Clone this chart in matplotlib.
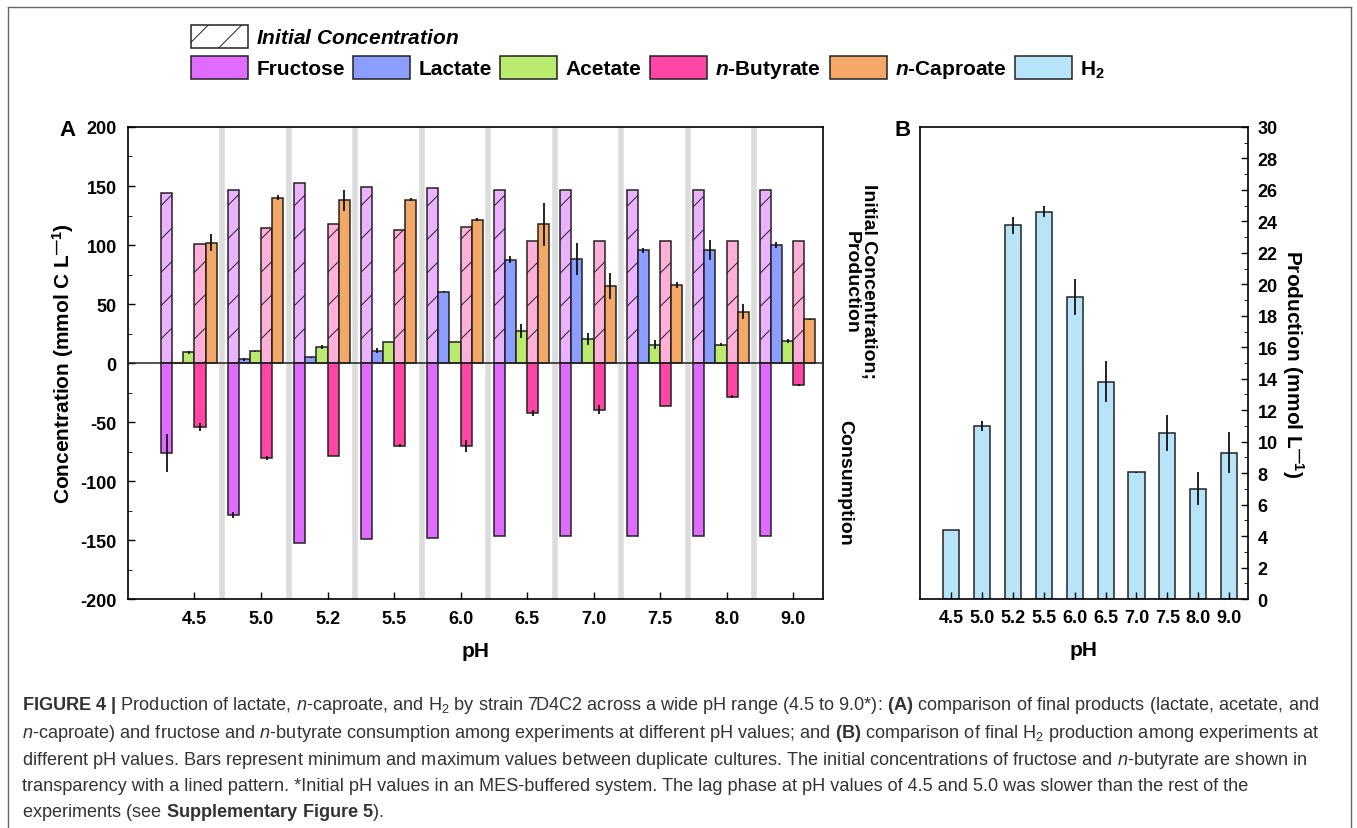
import numpy as np
import matplotlib.pyplot as plt
from matplotlib.patches import Patch
from matplotlib.lines import Line2D
from matplotlib.ticker import MultipleLocator

plt.rcParams['font.family'] = ['Liberation Sans', 'DejaVu Sans']
plt.rcParams['font.weight'] = 'bold'
plt.rcParams['axes.labelweight'] = 'bold'
plt.rcParams['mathtext.fontset'] = 'custom'
plt.rcParams['mathtext.rm'] = 'Liberation Sans:normal'
plt.rcParams['mathtext.it'] = 'Liberation Sans:italic:normal'
plt.rcParams['mathtext.bf'] = 'Liberation Sans:bold'
plt.rcParams['mathtext.bfit'] = 'Liberation Sans:italic:bold'
plt.rcParams['axes.unicode_minus'] = False
plt.rcParams['hatch.linewidth'] = 0.7
plt.rcParams['axes.linewidth'] = 1.2

#-- data (mmol C/L, panel A; mmol/L, panel B)
ph       = ['4.5', '5.0', '5.2', '5.5', '6.0', '6.5', '7.0', '7.5', '8.0', '9.0']
fru_init = [144, 147, 152.5, 149.5, 148.5, 147, 147, 147, 147, 147]
fru_cons = [-76.5, -129, -152.5, -149.5, -148.5, -147, -147, -147, -147, -147]
fru_err  = [16, 2.5, 0, 0, 0, 0, 0, 0, 0, 0]
lac      = [0, 3, 5, 10.5, 60.5, 87.5, 88.5, 95.5, 95.5, 100]
lac_err  = [0, 1, 0.5, 2, 0.5, 3, 13.5, 2, 8.5, 2.5]
ace      = [9, 10, 13.5, 17.5, 18, 27, 20.5, 15.5, 15.5, 18.5]
ace_err  = [1.5, 0.5, 1.5, 0, 0, 6, 5, 4, 1.5, 1.5]
but_init = [101, 114, 117.5, 113, 115.5, 103.5, 103.5, 103.5, 103.5, 103.5]
but_cons = [-54, -80.5, -78.5, -70, -70.5, -42, -39.5, -36.5, -28.5, -18.5]
but_err  = [3.5, 2, 0, 1, 5, 2.5, 4, 0, 1, 1]
cap      = [102, 140, 138, 138.5, 121.5, 117.5, 65, 66, 43.5, 37]
cap_err  = [7, 2, 9, 1.5, 1.5, 18.5, 11, 2.5, 6.5, 0.5]
h2       = [4.4, 11.0, 23.75, 24.6, 19.2, 13.8, 8.05, 10.55, 7.0, 9.3]
h2_err   = [0, 0.3, 0.55, 0.35, 1.15, 1.3, 0.05, 1.15, 1.05, 1.3]

#-- colours
c_fru, c_fru_i = '#df6bff', '#ecb1ff'
c_lac = '#8c9eff'
c_ace = '#bbeb6e'
c_but, c_but_i = '#ff45a5', '#ffb0d8'
c_cap = '#f4a868'
c_h2  = '#b8e4fa'
edge  = '#222222'

fig = plt.figure(figsize=(13.57, 8.29), dpi=100)

#-- panel A
axA = fig.add_axes([0.0943, 0.2762, 0.5122, 0.5694])
x = np.arange(len(ph))
w = 1 / 6
def off(k):
    return (k - 2.5) * w

for i in range(len(ph) - 1):
    axA.axvline(x[i] + 2.5 * w, color='#dcdcdc', lw=4, zorder=0)

bk = dict(edgecolor=edge, linewidth=1.1, zorder=2)
axA.bar(x + off(0), fru_init, w, color=c_fru_i, hatch='/', **bk)
axA.bar(x + off(0), fru_cons, w, color=c_fru, **bk)
axA.bar(x + off(1), lac, w, color=c_lac, **bk)
axA.bar(x + off(2), ace, w, color=c_ace, **bk)
axA.bar(x + off(3), but_init, w, color=c_but_i, hatch='/', **bk)
axA.bar(x + off(3), but_cons, w, color=c_but, **bk)
axA.bar(x + off(4), cap, w, color=c_cap, **bk)

ebk = dict(fmt='none', ecolor='#111111', elinewidth=1.3, capsize=0, zorder=3)
axA.errorbar(x + off(0), fru_cons, yerr=fru_err, **ebk)
axA.errorbar(x + off(1), lac, yerr=lac_err, **ebk)
axA.errorbar(x + off(2), ace, yerr=ace_err, **ebk)
axA.errorbar(x + off(3), but_cons, yerr=but_err, **ebk)
axA.errorbar(x + off(4), cap, yerr=cap_err, **ebk)
axA.axhline(0, color=edge, lw=1.1, zorder=4)

axA.set_xlim(-1.0, 9.45)
axA.set_ylim(-200, 200)
axA.set_xticks(x, ph)
axA.yaxis.set_major_locator(MultipleLocator(50))
axA.yaxis.set_minor_locator(MultipleLocator(25))
axA.tick_params(direction='in', labelsize=13, length=5, width=1, pad=8,
                top=False, right=False)
axA.tick_params(axis='y', which='minor', direction='in', length=3, right=False)
axA.set_xlabel('pH', fontsize=15, labelpad=10)
axA.set_ylabel('Concentration (mmol C L$^{\\mathbf{\u2014 1}}$)', fontsize=15,
               labelpad=3)

fig.text(860 / 1357, 1 - 282 / 829, 'Initial Concentration;\nProduction',
         rotation=270, ha='center', va='center', multialignment='center',
         fontsize=14, linespacing=1.05)
fig.text(845 / 1357, 1 - 483 / 829, 'Consumption', rotation=270,
         ha='center', va='center', fontsize=14)

#-- panel B
axB = fig.add_axes([0.6780, 0.2762, 0.2415, 0.5694])
axB.set_axisbelow(False)
axB.bar(x, h2, 0.52, color=c_h2, edgecolor=edge, linewidth=1.1, zorder=2)
axB.errorbar(x, h2, yerr=h2_err, **ebk)
axB.set_xlim(-1.0, 9.6)
axB.set_ylim(0, 30)
axB.set_xticks(x, ph)
axB.yaxis.tick_right()
axB.yaxis.set_label_position('right')
axB.yaxis.set_major_locator(MultipleLocator(2))
axB.yaxis.set_minor_locator(MultipleLocator(1))
axB.tick_params(direction='in', labelsize=13, length=5, width=1, pad=7,
                top=False, left=False)
axB.tick_params(axis='y', which='minor', direction='in', length=3, left=False)
axB.set_xlabel('pH', fontsize=15, labelpad=10)
axB.set_ylabel('Production (mmol L$^{\\mathbf{\u2014 1}}$)', fontsize=15,
               rotation=270, va='bottom', labelpad=2)

fig.text(67 / 1357, 1 - 130 / 829, 'A', fontsize=16, ha='center', va='center')
fig.text(903 / 1357, 1 - 130 / 829, 'B', fontsize=16, ha='center', va='center')

#-- legend (two rows)
h_init = [Patch(facecolor='white', edgecolor=edge, hatch='/', linewidth=1.1)]
fig.legend(h_init, [r'$\mathbfit{Initial\ Concentration}$'], loc='upper left',
           bbox_to_anchor=(191 / 1357, 1 - 26 / 829), frameon=False, fontsize=15,
           handlelength=2.74, handleheight=1.3, handletextpad=0.39,
           borderpad=0, borderaxespad=0)
h_sp = [Patch(facecolor=c, edgecolor=edge, linewidth=1.1)
        for c in [c_fru, c_lac, c_ace, c_but, c_cap, c_h2]]
l_sp = ['Fructose', 'Lactate', 'Acetate', r'$\mathbfit{n}$-Butyrate',
        r'$\mathbfit{n}$-Caproate', r'H$_{\mathbf{2}}$']
fig.legend(h_sp, l_sp, loc='upper left', ncol=6,
           bbox_to_anchor=(191 / 1357, 1 - 57 / 829), frameon=False, fontsize=15,
           handlelength=2.74, handleheight=1.3, handletextpad=0.39,
           columnspacing=0.41, borderpad=0, borderaxespad=0)

#-- caption
cap_lines = [
    r'$\mathbf{FIGURE\ 4\ |}$ Production of lactate, $\mathit{n}$-caproate, and H$_2$ by strain 7D4C2 across a wide pH range (4.5 to 9.0*): $\mathbf{(A)}$ comparison of final products (lactate, acetate, and',
    r'$\mathit{n}$-caproate) and fructose and $\mathit{n}$-butyrate consumption among experiments at different pH values; and $\mathbf{(B)}$ comparison of final H$_2$ production among experiments at',
    r'different pH values. Bars represent minimum and maximum values between duplicate cultures. The initial concentrations of fructose and $\mathit{n}$-butyrate are shown in',
    'transparency with a lined pattern. *Initial pH values in an MES-buffered system. The lag phase at pH values of 4.5 and 5.0 was slower than the rest of the',
    r'experiments (see $\mathbf{Supplementary\ Figure\ 5}$).',
]
cap_y = [706, 734, 761, 787, 813]
for s, yy in zip(cap_lines, cap_y):
    fig.text(22 / 1357, 1 - yy / 829, s, fontsize=13.1, fontweight='normal',
             color='#333333', ha='left', va='center')

#-- frame around the figure
fc = '#666666'
fig.add_artist(Line2D([8 / 1357, 8 / 1357], [0, 1 - 8 / 829], color=fc, lw=1))
fig.add_artist(Line2D([1351 / 1357, 1351 / 1357], [0, 1 - 8 / 829], color=fc, lw=1))
fig.add_artist(Line2D([8 / 1357, 1351 / 1357], [1 - 8 / 829, 1 - 8 / 829], color=fc, lw=1))

plt.savefig('out.png', dpi=100)
